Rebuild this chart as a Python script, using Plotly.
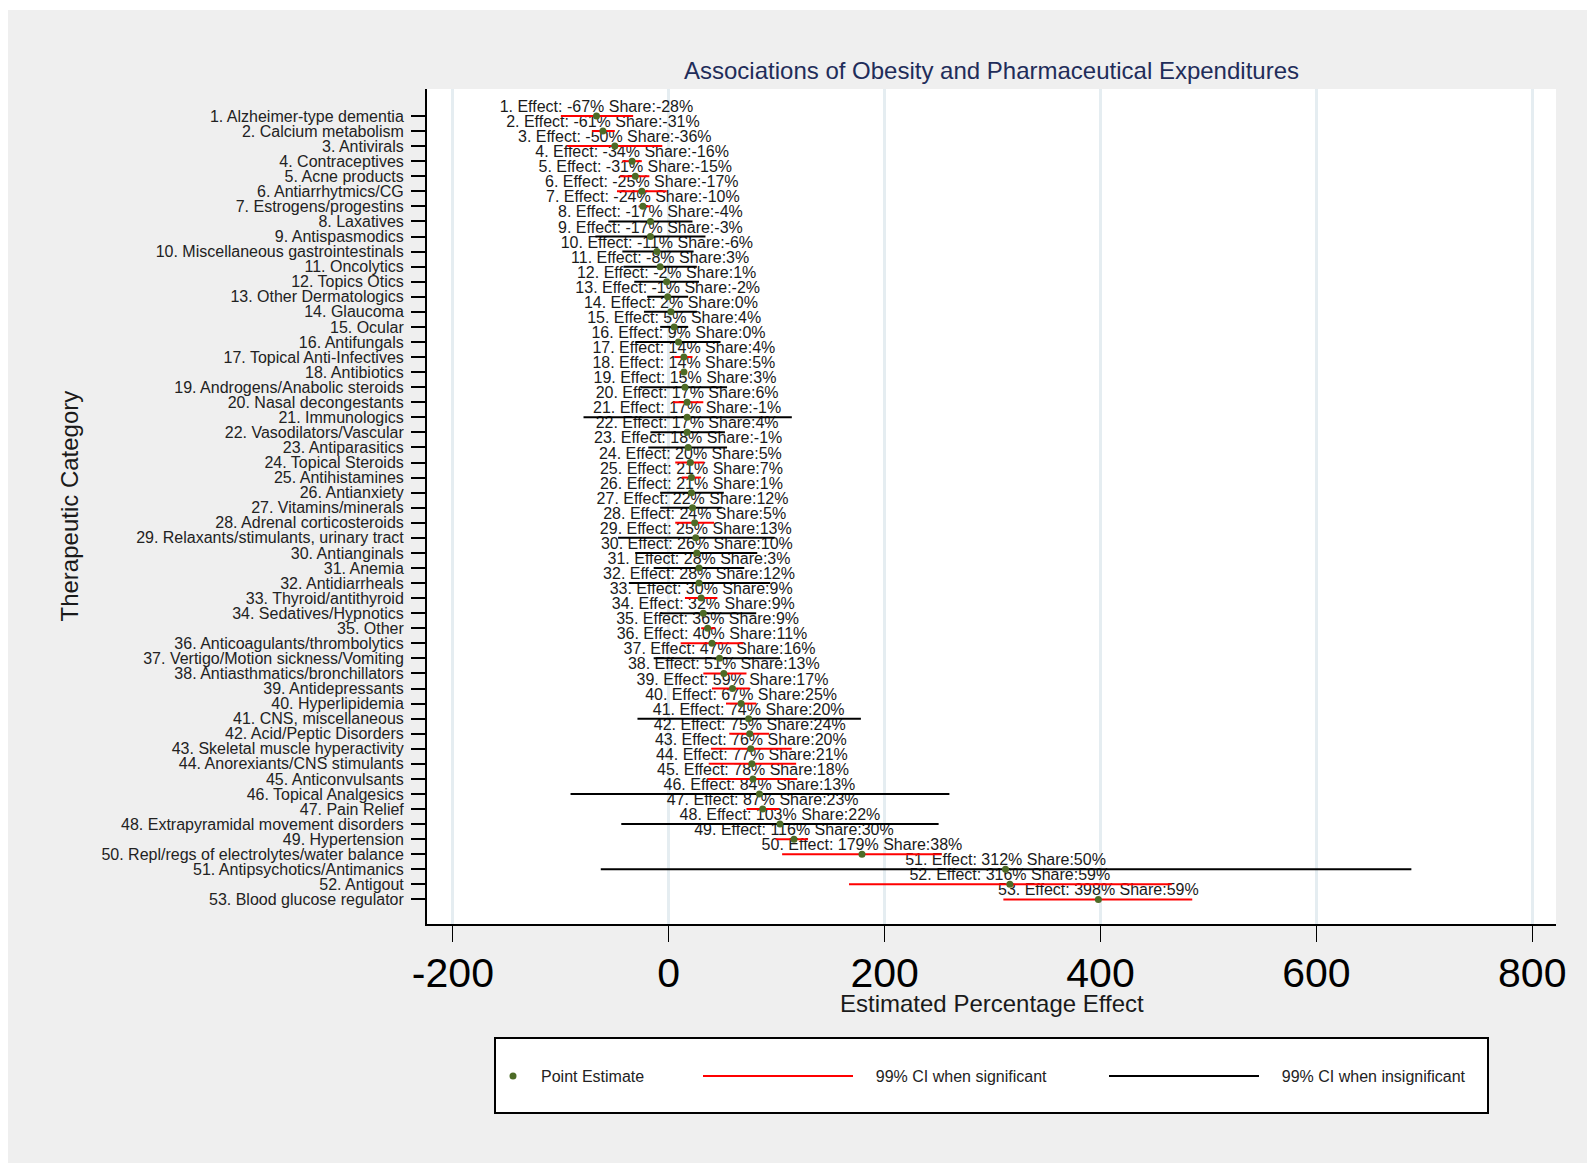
import plotly.graph_objects as go

# ---------------- data ----------------
categories = [
    "Alzheimer-type dementia", "Calcium metabolism", "Antivirals", "Contraceptives",
    "Acne products", "Antiarrhytmics/CG", "Estrogens/progestins", "Laxatives",
    "Antispasmodics", "Miscellaneous gastrointestinals", "Oncolytics", "Topics Otics",
    "Other Dermatologics", "Glaucoma", "Ocular", "Antifungals", "Topical Anti-Infectives",
    "Antibiotics", "Androgens/Anabolic steroids", "Nasal decongestants", "Immunologics",
    "Vasodilators/Vascular", "Antiparasitics", "Topical Steroids", "Antihistamines",
    "Antianxiety", "Vitamins/minerals", "Adrenal corticosteroids",
    "Relaxants/stimulants, urinary tract", "Antianginals", "Anemia", "Antidiarrheals",
    "Thyroid/antithyroid", "Sedatives/Hypnotics", "Other", "Anticoagulants/thrombolytics",
    "Vertigo/Motion sickness/Vomiting", "Antiasthmatics/bronchillators", "Antidepressants",
    "Hyperlipidemia", "CNS, miscellaneous", "Acid/Peptic Disorders",
    "Skeletal muscle hyperactivity", "Anorexiants/CNS stimulants", "Anticonvulsants",
    "Topical Analgesics", "Pain Relief", "Extrapyramidal movement disorders",
    "Hypertension", "Repl/regs of electrolytes/water balance", "Antipsychotics/Antimanics",
    "Antigout", "Blood glucose regulator",
]
effect = [-67, -61, -50, -34, -31, -25, -24, -17, -17, -11, -8, -2, -1, 2, 5, 9, 14, 14, 15,
          17, 17, 17, 18, 20, 21, 21, 22, 24, 25, 26, 28, 28, 30, 32, 36, 40, 47, 51, 59, 67,
          74, 75, 76, 77, 78, 84, 87, 103, 116, 179, 312, 316, 398]
share = [-28, -31, -36, -16, -15, -17, -10, -4, -3, -6, 3, 1, -2, 0, 4, 0, 4, 5, 3, 6, -1, 4,
         -1, 5, 7, 1, 12, 5, 13, 10, 3, 12, 9, 9, 9, 11, 16, 13, 17, 25, 20, 24, 20, 21, 18,
         13, 23, 22, 30, 38, 50, 59, 59]
ci_low = [-100, -71, -94, -43, -45, -48, -28, -56, -68, -43, -42, -32, -20, -23, -8, -31, 5,
          10, -26, 4, -79, -17, -19, 6, 12, -8, -8, 6, -47, -31, -14, -37, 15, -8, 30, 11,
          -14, 32, 40, 53, -29, 56, 39, 37, 36, -91, 72, -44, 99, 105, -63, 167, 310]
ci_high = [-33, -50, -6, -25, -18, -2, -17, 22, 34, 23, 26, 28, 18, 26, 18, 48, 22, 17, 54,
           32, 114, 52, 54, 33, 30, 51, 49, 42, 98, 82, 70, 94, 45, 81, 43, 69, 103, 72, 75,
           81, 178, 93, 114, 118, 119, 260, 102, 250, 129, 253, 688, 466, 485]
x_ticks = [-200, 0, 200, 400, 600, 800]

# ---------------- geometry ----------------
PAGE_OFF = 8                      # browser body margin
W, H = 1587, 1155
ML, MR, MT, MB = 419, 39, 81, 239
PW, PH = W - ML - MR, H - MT - MB
FONT = "Liberation Sans, Arial, Helvetica, sans-serif"


def px_x(px):
    """page x pixel -> paper fraction"""
    return (px - PAGE_OFF - ML) / PW


def px_y(py):
    """page y pixel -> paper fraction"""
    return (H - MB - (py - PAGE_OFF)) / PH


rows = list(range(1, len(categories) + 1))
tick_labels = [f"{r}. {c}" for r, c in zip(rows, categories)]
point_text = [f"{r}. Effect: {e}% Share:{s}%" for r, e, s in zip(rows, effect, share)]

sig_x, sig_y, ins_x, ins_y = [], [], [], []
for r, lo, hi in zip(rows, ci_low, ci_high):
    if lo > 0 or hi < 0:
        sig_x += [lo, hi, None]
        sig_y += [r, r, None]
    else:
        ins_x += [lo, hi, None]
        ins_y += [r, r, None]

PAD = "\u00a0" * 4
fig = go.Figure()
fig.add_trace(go.Scatter(
    x=effect, y=rows, mode="text", text=point_text, textposition="top center",
    textfont=dict(size=16, color="#1a1a1a", family=FONT), showlegend=False, hoverinfo="skip"))
fig.add_trace(go.Scatter(
    x=sig_x, y=sig_y, mode="lines", line=dict(color="#ff0000", width=2),
    name=PAD + "99% CI when significant", legend="legend2"))
fig.add_trace(go.Scatter(
    x=ins_x, y=ins_y, mode="lines", line=dict(color="#000000", width=2),
    name=PAD + "99% CI when insignificant", legend="legend2"))
fig.add_trace(go.Scatter(
    x=effect, y=rows, mode="markers", marker=dict(color="#4d6b26", size=7),
    name="Point Estimate", legend="legend"))

shapes = [
    # thin white strip at the top of the page
    dict(type="rect", xref="paper", yref="paper", x0=px_x(0), x1=px_x(1700), y0=px_y(10),
         y1=px_y(0), fillcolor="white", line=dict(width=0), layer="below"),
    # legend box
    dict(type="rect", xref="paper", yref="paper", x0=px_x(495), x1=px_x(1488), y0=px_y(1113),
         y1=px_y(1038), fillcolor="white", line=dict(color="black", width=2), layer="below"),
]

annotations = [
    dict(text="Estimated Percentage Effect", xref="paper", yref="paper", x=0.5, y=px_y(1003),
         xanchor="center", yanchor="middle", showarrow=False, font=dict(size=24, color="#1a1a1a")),
    dict(text="Therapeutic Category", xref="paper", yref="paper", x=px_x(69), y=0.5,
         xanchor="center", yanchor="middle", showarrow=False, textangle=-90,
         font=dict(size=24, color="#1a1a1a")),
]

fig.update_layout(
    width=W, height=H,
    margin=dict(l=ML, r=MR, t=MT, b=MB, autoexpand=False),
    paper_bgcolor="#efefef", plot_bgcolor="white",
    font=dict(family=FONT, color="#222222"),
    title=dict(text="Associations of Obesity and Pharmaceutical Expenditures",
               x=(ML + PW / 2) / W, xanchor="center", y=1 - (70.7 - PAGE_OFF) / H,
               yanchor="middle", font=dict(size=24, color="#1f2d5a")),
    xaxis=dict(range=[-224, 822], tickvals=x_ticks, ticktext=[str(v) for v in x_ticks],
               ticks="outside", ticklen=16, tickcolor="black", tickwidth=1,
               tickfont=dict(size=41, color="black"), ticklabelstandoff=-4,
               showline=True, linecolor="black", linewidth=2, showgrid=True,
               gridcolor="#e5edf1", gridwidth=3, zeroline=False),
    yaxis=dict(range=[54.63, -0.79], tickvals=rows, ticktext=tick_labels, ticks="outside",
               ticklen=14, tickcolor="black", tickwidth=2, ticklabelstandoff=4,
               tickfont=dict(size=16, color="#222222"),
               showline=True, linecolor="black", linewidth=2, showgrid=False, zeroline=False),
    legend=dict(orientation="h", x=px_x(485), y=px_y(1076), xanchor="left", yanchor="middle",
                bgcolor="rgba(0,0,0,0)", font=dict(size=16, color="#222222"), itemwidth=46),
    legend2=dict(orientation="h", x=px_x(698), y=px_y(1076), xanchor="left", yanchor="middle",
                 bgcolor="rgba(0,0,0,0)", font=dict(size=16, color="#222222"), itemwidth=150,
                 entrywidth=241, entrywidthmode="pixels"),
    shapes=shapes, annotations=annotations,
    showlegend=True,
)

fig.write_html("out.html")
